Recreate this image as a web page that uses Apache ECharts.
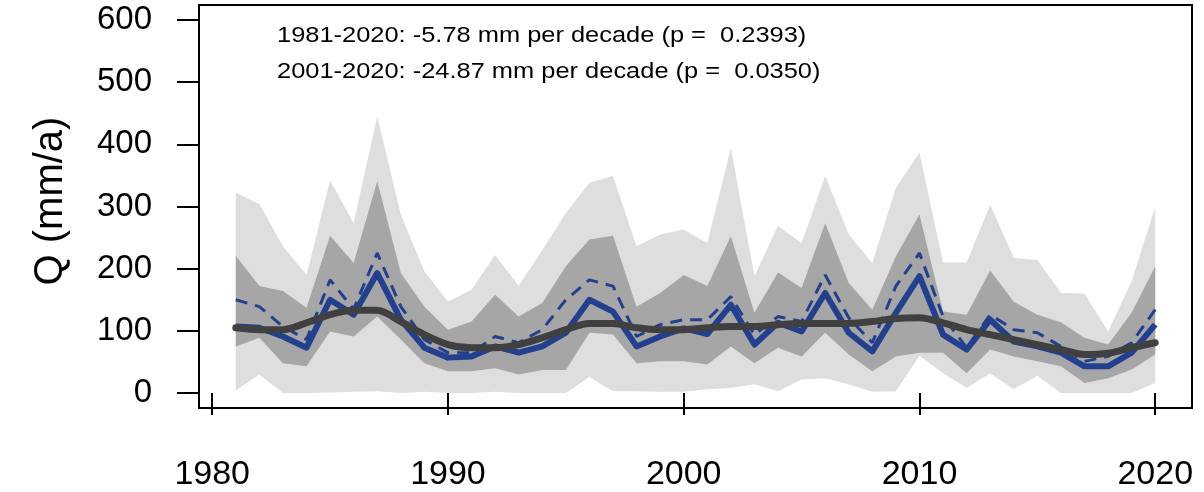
<!DOCTYPE html>
<html>
<head>
<meta charset="utf-8">
<script src="https://cdn.jsdelivr.net/npm/echarts@6/dist/echarts.min.js"></script>
<style>
html,body{margin:0;padding:0;background:#fff;}
#chart{width:1204px;height:492px;}
</style>
</head>
<body>
<div id="chart"></div>
<script>
const years = [1981,1982,1983,1984,1985,1986,1987,1988,1989,1990,1991,1992,1993,1994,1995,1996,1997,1998,1999,2000,2001,2002,2003,2004,2005,2006,2007,2008,2009,2010,2011,2012,2013,2014,2015,2016,2017,2018,2019,2020];
const lightUpper = [322,304,236,190,342,273,445,287,196,147,166,222,172,230,289,338,349,236,255,263,241,394,188,269,241,349,255,209,330,387,210,210,303,217,214,161,160,99,180,300];
const lightLower = [4,30,0,0,1,2,3,0,2,0,0,2,0,0,0,26,3,3,2,2,6,8,14,3,22,24,14,2,3,60,32,8,32,6,28,0,0,0,0,16];
const darkUpper = [221,172,164,137,253,209,341,193,139,102,115,158,123,145,204,247,253,139,161,190,172,252,129,194,169,273,177,134,220,287,131,126,197,147,126,114,89,78,129,204];
const darkLower = [75,89,48,43,99,91,123,86,48,35,35,40,30,37,37,97,94,48,51,51,46,75,48,73,59,97,62,35,59,65,65,32,70,59,51,43,16,24,38,62];
const blueSolid = [107,105,91,73,150,126,193,118,73,57,59,75,65,75,97,150,131,75,91,104,95,142,78,113,99,161,97,67,129,188,94,70,118,83,75,65,43,43,65,110];
const blueDashed = [150,139,107,86,182,135,225,139,86,65,65,91,81,102,150,182,172,91,110,118,118,155,94,123,115,190,121,81,172,225,123,73,126,102,97,75,51,59,81,134];
const smoothLine = [105,102,102,113,126,133,133,115,94,78,73,73,78,89,102,112,112,105,102,102,105,107,107,110,112,112,112,115,120,121,113,102,94,86,78,70,62,64,73,81];
const xTicks = [1980,1990,2000,2010,2020];
const yTicks = [0,100,200,300,400,500,600];
const annot1 = "1981-2020: -5.78 mm per decade (p =  0.2393)";
const annot2 = "2001-2020: -24.87 mm per decade (p =  0.0350)";
const yName = "Q (mm/a)";

const pair = arr => years.map((y,i)=>[y,arr[i]]);
const FONT = "'Liberation Sans', Arial, sans-serif";

function bandSeries(lower, upper, color, z){
  return {
    type:'custom', z:z, silent:true,
    data: years.map((y,i)=>[y, lower[i], upper[i]]),
    encode:{x:0, y:[1,2]},
    renderItem:(params, api)=>{
      if(params.dataIndex !== 0) return null;
      const pts = [];
      for(let i=0;i<years.length;i++) pts.push(api.coord([years[i], upper[i]]));
      for(let i=years.length-1;i>=0;i--) pts.push(api.coord([years[i], lower[i]]));
      return {type:'polygon', shape:{points:pts}, style:{fill:color, stroke:null}};
    }
  };
}

const chart = echarts.init(document.getElementById('chart'), null, {renderer:'canvas'});
chart.setOption({
  animation:false,
  backgroundColor:'#fff',
  grid:{left:199,right:12,top:5,bottom:84,show:true,borderColor:'#000',borderWidth:2,backgroundColor:'transparent'},
  xAxis:{type:'value',min:1979.44,max:2021.56,
    axisLine:{show:false},splitLine:{show:false},
    axisTick:{show:true,inside:false,length:22,customValues:xTicks,lineStyle:{color:'#000',width:2}},
    axisLabel:{customValues:xTicks,fontSize:34,color:'#000',fontFamily:FONT,margin:50,formatter:v=>String(v)}},
  yAxis:{type:'value',min:-24,max:624,
    axisLine:{show:false},splitLine:{show:false},
    axisTick:{show:true,inside:false,length:22,customValues:yTicks,lineStyle:{color:'#000',width:2}},
    axisLabel:{customValues:yTicks,fontSize:33,color:'#000',fontFamily:FONT,margin:47,formatter:v=>String(v)}},
  graphic:[
    {type:'text',x:277,y:36,scaleX:1.13,style:{text:annot1,fontSize:22.5,fontFamily:FONT,fill:'#000',verticalAlign:'middle'}},
    {type:'text',x:277,y:72,scaleX:1.13,style:{text:annot2,fontSize:22.5,fontFamily:FONT,fill:'#000',verticalAlign:'middle'}},
    {type:'text',x:51,y:201,rotation:Math.PI/2,style:{text:yName,fontSize:40,fontFamily:FONT,fill:'#000',align:'center',verticalAlign:'middle'}}
  ],
  series:[
    bandSeries(lightLower, lightUpper, '#dedede', 1),
    bandSeries(darkLower, darkUpper, '#a6a6a6', 2),
    {type:'line',data:pair(blueDashed),symbol:'none',lineStyle:{color:'#23408e',width:3,type:[12,8]},z:3},
    {type:'line',data:pair(blueSolid),symbol:'none',lineStyle:{color:'#23408e',width:6,join:'round'},z:4},
    {type:'line',data:pair(smoothLine),symbol:'none',smooth:0.3,lineStyle:{color:'#404040',width:7,cap:'round'},z:5}
  ]
});
</script>
</body>
</html>
